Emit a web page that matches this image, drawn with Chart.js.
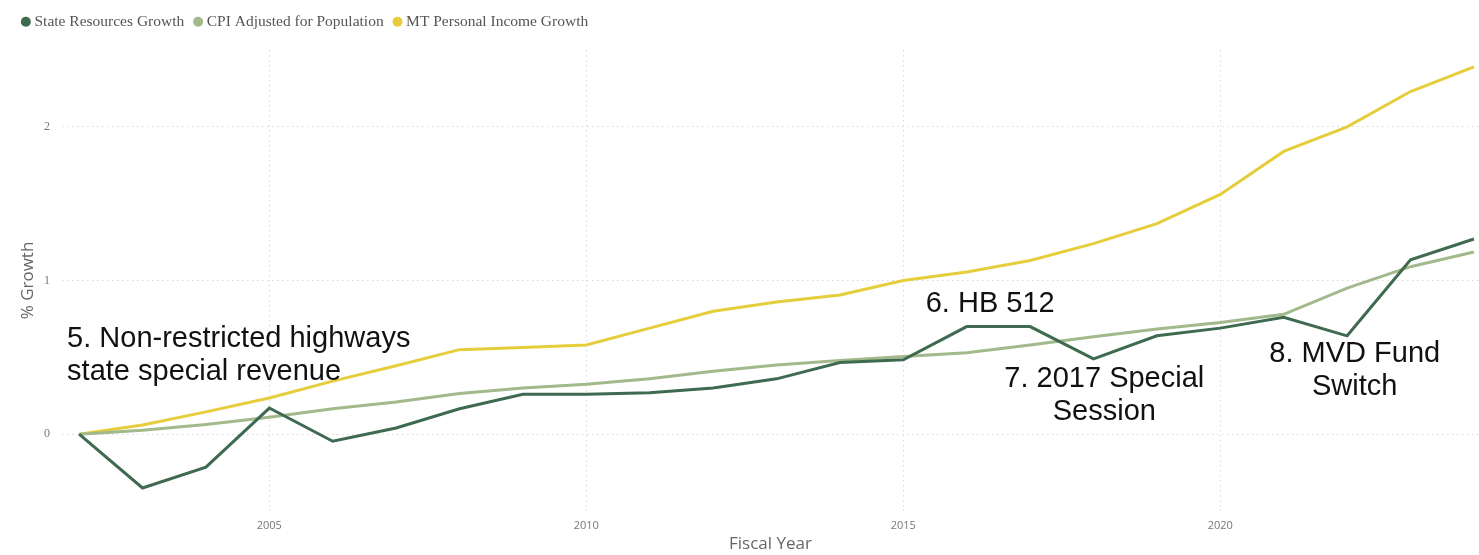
<!DOCTYPE html>
<html><head><meta charset="utf-8">
<script src="https://cdn.jsdelivr.net/npm/chart.js@4.4.1/dist/chart.umd.min.js"></script>
<style>html,body{margin:0;padding:0;background:#fff;}canvas{display:block;}</style>
</head><body>
<canvas id="c" width="1479" height="555"></canvas>
<script>
const years = [2002,2003,2004,2005,2006,2007,2008,2009,2010,2011,2012,2013,2014,2015,2016,2017,2018,2019,2020,2021,2022,2023,2024];
const stateResources = [0,-0.35,-0.215,0.17,-0.046,0.04,0.165,0.26,0.26,0.27,0.30,0.36,0.466,0.484,0.70,0.70,0.49,0.64,0.69,0.76,0.64,1.135,1.27];
const cpiAdjusted = [0,0.025,0.063,0.11,0.165,0.21,0.265,0.30,0.325,0.36,0.41,0.45,0.48,0.505,0.53,0.58,0.634,0.684,0.727,0.78,0.95,1.09,1.185];
const personalIncome = [0,0.06,0.145,0.235,0.345,0.445,0.55,0.564,0.58,0.69,0.80,0.86,0.906,1.0,1.055,1.13,1.24,1.37,1.56,1.84,2.0,2.23,2.39];
const seriesNames = ['State Resources Growth','CPI Adjusted for Population','MT Personal Income Growth'];
const xTicks = [2005,2010,2015,2020];
const yTicks = [0,1,2];
const noteTexts = [
  ['5. Non-restricted highways','state special revenue'],
  ['6. HB 512'],
  ['7. 2017 Special','Session'],
  ['8. MVD Fund','Switch']
];
const noteYears = [2001.81, 2016.37, 2018.17, 2022.12];
const noteValues = [0.634, 0.86, 0.372, 0.535];
const noteAlign = ['left','center','center','center'];

const colors = ['#3e6a50','#a2b98c','#e6cd3c'];
const seriesData = [stateResources, cpiAdjusted, personalIncome];

const datasets = seriesNames.map((name, i) => ({
  label: name,
  data: years.map((y, j) => ({x: y, y: seriesData[i][j]})),
  borderColor: colors[i],
  backgroundColor: colors[i],
  borderWidth: 3,
  pointRadius: 0,
  pointHoverRadius: 0,
  pointStyle: 'circle',
  tension: 0
}));

const notesPlugin = {
  id: 'notes',
  afterDatasetsDraw(chart) {
    const ctx = chart.ctx;
    const xs = chart.scales.x, ys = chart.scales.y;
    const size = 29, gap = 33;
    ctx.save();
    ctx.font = size + 'px "Liberation Sans", Arial, sans-serif';
    ctx.fillStyle = '#111';
    ctx.textBaseline = 'alphabetic';
    noteTexts.forEach((lines, i) => {
      const px = xs.getPixelForValue(noteYears[i]);
      const py = ys.getPixelForValue(noteValues[i]);
      ctx.textAlign = noteAlign[i];
      lines.forEach((t, k) => ctx.fillText(t, px, py + 0.358 * size + k * gap));
    });
    ctx.restore();
  }
};

const legendHeightPlugin = {
  id: 'legendHeight',
  beforeInit(chart) {
    const fit = chart.legend.fit;
    chart.legend.fit = function () { fit.call(this); this.height = 49; };
  }
};

new Chart(document.getElementById('c'), {
  type: 'line',
  data: { datasets },
  plugins: [legendHeightPlugin, notesPlugin],
  options: {
    responsive: false,
    animation: false,
    events: [],
    layout: { padding: { top: 1, left: 12, right: 0, bottom: 0 } },
    plugins: {
      tooltip: { enabled: false },
      legend: {
        position: 'top',
        align: 'start',
        labels: {
          usePointStyle: true,
          boxWidth: 1.7,
          boxHeight: 7.07,
          padding: 13,
          color: '#555',
          font: { family: '"Liberation Serif", "Times New Roman", serif', size: 15.5 },
          generateLabels(chart) {
            const items = Chart.defaults.plugins.legend.labels.generateLabels(chart);
            items.forEach(it => { it.lineWidth = 0; });
            return items;
          }
        }
      }
    },
    scales: {
      x: {
        type: 'linear',
        min: 2001.73,
        max: 2024.08,
        afterBuildTicks: s => { s.ticks = xTicks.map(v => ({ value: v })); },
        afterFit: s => { s.height = 44; },
        ticks: {
          padding: 8,
          color: '#777',
          font: { family: '"Open Sans", "DejaVu Sans", sans-serif', size: 11 },
          callback: v => String(v),
          maxRotation: 0
        },
        grid: { color: '#d9d9d9', lineWidth: 1, drawTicks: false, borderDash: [1.5, 3.5] },
        border: { display: false, dash: [1.5, 3.5] },
        title: {
          display: true,
          text: 'Fiscal Year',
          color: '#666',
          font: { family: '"Open Sans", "DejaVu Sans", sans-serif', size: 17 },
          padding: { top: 0, bottom: 1 }
        }
      },
      y: {
        min: -0.5,
        max: 2.5,
        afterBuildTicks: s => { s.ticks = yTicks.map(v => ({ value: v })); },
        afterFit: s => { s.width = 50; },
        ticks: {
          padding: 12,
          color: '#777',
          font: { family: '"Liberation Serif", "Times New Roman", serif', size: 12 },
          callback: v => String(v)
        },
        grid: { color: '#d9d9d9', lineWidth: 1, drawTicks: false, borderDash: [1.5, 3.5] },
        border: { display: false, dash: [1.5, 3.5] },
        title: {
          display: true,
          text: '% Growth',
          color: '#666',
          font: { family: '"Open Sans", "DejaVu Sans", sans-serif', size: 17 },
          padding: { top: 6, bottom: 0 }
        }
      }
    }
  }
});
</script>
</body></html>
